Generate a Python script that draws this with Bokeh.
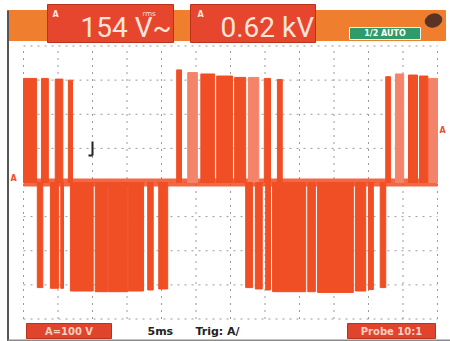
from bokeh.plotting import figure
from bokeh.models import Range1d
from bokeh.embed import file_html
from bokeh.resources import INLINE
from bokeh.core.properties import value

# ---- data (time in ms, 5 ms/div; voltage in V, 100 V/div) ----
GRID_T = [0, 5, 10, 15, 20, 25, 30, 35, 40, 45, 50, 55, 60]
GRID_V = [-400, -300, -200, -100, 0, 100, 200, 300, 400]

POS_START = [0.0, 2.6, 4.6, 6.5, 22.2, 25.7, 28.0, 30.6, 34.9, 36.8, 52.5, 55.8, 57.4]
POS_END   = [1.9, 3.6, 5.7, 7.1, 22.9, 27.7, 30.3, 32.2, 35.8, 37.5, 53.2, 57.1, 58.6]
POS_PEAK  = [305, 305, 303, 300, 330, 318, 312, 308, 305, 302, 310, 315, 312]

FAINT_START = [23.8, 32.6, 53.9, 58.7]
FAINT_END   = [25.2, 34.1, 55.1, 60.0]
FAINT_PEAK  = [322, 308, 318, 305]

NEG_START = [2.0, 3.9, 5.4, 6.8, 10.4, 12.3, 15.2, 18.0, 19.6,
             32.2, 33.6, 35.1, 36.1, 41.2, 42.6, 48.1, 50.0, 51.7]
NEG_END   = [2.8, 5.1, 5.8, 10.1, 12.2, 15.1, 17.4, 18.8, 20.9,
             33.2, 34.6, 35.8, 40.9, 42.3, 47.8, 49.6, 50.7, 52.5]
NEG_PEAK  = [-308, -310, -310, -318, -320, -320, -318, -315, -312,
             -308, -312, -315, -320, -320, -322, -318, -314, -308]

BASE_T = [0, 60]
BASE_V = [0, 0]

READ_1 = "154 V~"
READ_2 = "0.62 kV"

# ---- pixel <-> data helpers for the instrument frame ----
X0, PX_PER_MS = 23.0, 6.9
Y0, PX_PER_V = 182.0, 34.125 / 100.0


def tx(px):
    return (px - X0) / PX_PER_MS


def vy(py):
    return (Y0 - py) / PX_PER_V


W, H = 450, 341
p = figure(width=W, height=H, output_backend="svg", toolbar_location=None,
           x_range=Range1d(tx(0), tx(W)), y_range=Range1d(vy(H), vy(0)),
           x_axis_type=None, y_axis_type=None, title=None, min_border=0)
p.outline_line_color = None
p.background_fill_color = "white"
p.border_fill_color = "white"
p.xgrid.visible = False
p.ygrid.visible = False

RED = "#F04E24"
FAINT = "#F3846A"
GRIDC = "#9A9A9A"

# grid
p.segment(x0=GRID_T, x1=GRID_T, y0=[GRID_V[0]] * len(GRID_T), y1=[GRID_V[-1]] * len(GRID_T),
          line_color=GRIDC, line_width=1, line_dash="2 5")
p.segment(x0=[GRID_T[0]] * len(GRID_V), x1=[GRID_T[-1]] * len(GRID_V), y0=GRID_V, y1=GRID_V,
          line_color=GRIDC, line_width=1, line_dash="2 5")

# waveform
p.line(BASE_T, BASE_V, line_color=RED, line_width=8, line_alpha=0.85)
p.quad(left=FAINT_START, right=FAINT_END, bottom=0, top=FAINT_PEAK,
       fill_color=FAINT, line_color=FAINT)
p.quad(left=POS_START, right=POS_END, bottom=0, top=POS_PEAK,
       fill_color=RED, line_color=RED)
p.quad(left=NEG_START, right=NEG_END, bottom=0, top=NEG_PEAK,
       fill_color=RED, line_color=RED)


def box(x1, y1, x2, y2, fill, line=None, lw=1):
    p.quad(left=[tx(x1)], right=[tx(x2)], top=[vy(y1)], bottom=[vy(y2)],
           fill_color=fill, line_color=line if line else fill, line_width=lw)


def txt(x, y, s, size, color, font="DejaVu Sans", style="normal", align="left"):
    p.text(x=[tx(x)], y=[vy(y)], text=[s], text_font=value(font),
           text_font_size=f"{size}px", text_color=color, text_font_style=style,
           text_align=align, text_baseline="middle")


READ_FONT = "Liberation Sans Narrow, Roboto, sans-serif"

# top bar
box(7, 10, 445, 40, "#EF7F2E")
box(47, 4, 173, 42, "#E6462D", "#B8321F")
box(190, 4, 315, 42, "#E6462D", "#B8321F")
txt(52, 14, "A", 8, "#FFE6DC", style="bold")
txt(197, 14, "A", 8, "#FFE6DC", style="bold")
txt(80, 27, READ_1, 28, "#FFE4DA", font=READ_FONT)
txt(142, 13, "rms", 7, "#FFE4DA")
txt(220, 27, READ_2, 28, "#FFE4DA", font=READ_FONT)
box(349, 27, 420, 39, "#2F9A6A", "#E8F4EE")
txt(384.5, 33, "1/2 AUTO", 8, "white", style="bold", align="center")
p.ellipse(x=[tx(433)], y=[vy(20)], width=[tx(445) - tx(428)], height=[vy(14) - vy(27)],
          fill_color="#5A3325", line_color="#5A3325", angle=0.3)

# channel / trigger markers
txt(10, 178, "A", 8, RED, style="bold")
txt(439, 130, "A", 8, RED, style="bold")
p.multi_line(xs=[[tx(92), tx(92)], [tx(88), tx(92)]], ys=[[vy(141), vy(155)], [vy(155), vy(155)]],
             line_color="#222222", line_width=2)

# bottom bar
box(26, 323, 111, 338, "#E0442C", "#B8321F")
box(347, 323, 435, 338, "#E0442C", "#B8321F")
txt(68.5, 330.5, "A=100 V", 10, "#FAD0C0", style="bold", align="center")
txt(391, 330.5, "Probe 10:1", 10, "#FAD0C0", style="bold", align="center")
txt(147, 331, "5ms", 11, "#222222", style="bold")
txt(195, 331, "Trig: A/", 11, "#222222", style="bold")

# instrument borders
p.line([tx(7.5), tx(7.5)], [vy(10), vy(341)], line_color="#555555", line_width=2)
p.line([tx(7), tx(450)], [vy(340), vy(340)], line_color="#8A8A8A", line_width=2)

open("out.html", "w").write(file_html(p, INLINE))
